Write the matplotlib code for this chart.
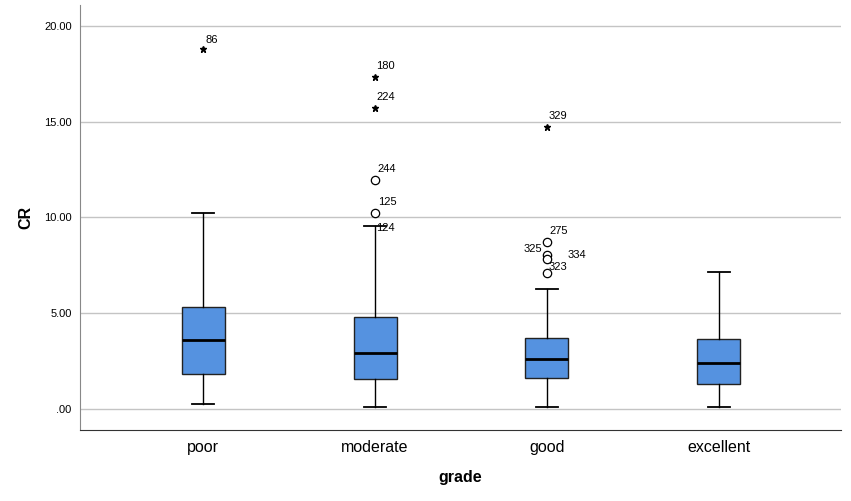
import matplotlib
matplotlib.use('Agg')
import matplotlib.pyplot as plt

plt.rcParams['font.family'] = ['Liberation Sans', 'DejaVu Sans']

grades = ['poor', 'moderate', 'good', 'excellent']
q1 = [1.83, 1.57, 1.60, 1.31]
med = [3.60, 2.92, 2.62, 2.40]
q3 = [5.33, 4.80, 3.71, 3.66]
whis_lo = [0.26, 0.10, 0.12, 0.10]
whis_hi = [10.23, 9.56, 6.27, 7.15]

# outliers: (group index, value, case id, kind)
out_grp = [0, 1, 1, 1, 1, 2, 2, 2, 2, 2]
out_val = [18.80, 17.34, 15.72, 11.96, 10.23, 14.73, 8.72, 8.04, 7.83, 7.10]
out_id = ['86', '180', '224', '244', '125', '329', '275', '325', '334', '323']
out_kind = ['*', '*', '*', 'o', 'o', '*', 'o', 'o', 'o', 'o']
# label position offsets in points
out_off = [(2, 3), (1, 4), (1, 4), (2, 4), (2, 4), (1, 4), (2, 4), (-17, 1), (15, -1), (1, 1)]

fig = plt.figure(figsize=(8.51, 5.01), dpi=100)
ax = fig.add_axes([0.094, 0.142, 0.894, 0.848])

pos = [1, 2, 3, 4]
stats = []
for i in range(4):
    stats.append(dict(med=med[i], q1=q1[i], q3=q3[i], whislo=whis_lo[i], whishi=whis_hi[i], fliers=[]))

ax.bxp(stats, positions=pos, widths=0.25, showfliers=False, patch_artist=True,
       boxprops=dict(facecolor='#5592e0', edgecolor='#222222', linewidth=1.0),
       medianprops=dict(color='black', linewidth=2.0),
       whiskerprops=dict(color='black', linewidth=1.0),
       capprops=dict(color='black', linewidth=1.3), capwidths=0.125, zorder=3)

for g, v, lab, k, off in zip(out_grp, out_val, out_id, out_kind, out_off):
    if k == '*':
        ax.plot(pos[g], v, marker='*', color='black', markersize=5, linestyle='none', zorder=4)
    else:
        ax.plot(pos[g], v, marker='o', markerfacecolor='white', markeredgecolor='black',
                markersize=6, markeredgewidth=0.9, linestyle='none', zorder=4)
    ax.annotate(lab, (pos[g], v), xytext=off, textcoords='offset points', fontsize=8,
                ha='left', va='bottom', zorder=5)

# label 124 sits on the whisker cap
ax.annotate('124', (pos[1], whis_hi[1]), xytext=(1, -5), textcoords='offset points',
            fontsize=8, ha='left', va='bottom', zorder=5)

ax.set_xlim(0.283, 4.71)
ax.set_ylim(-1.1, 21.1)
ax.set_yticks([0, 5, 10, 15, 20])
ax.set_yticklabels(['.00', '5.00', '10.00', '15.00', '20.00'], fontsize=8)
ax.set_xticks(pos)
ax.set_xticklabels(grades, fontsize=11.5)
ax.tick_params(axis='both', length=0)
ax.tick_params(axis='x', pad=7)
ax.tick_params(axis='y', pad=6)
ax.yaxis.grid(True, color='#c4c4c4', linewidth=1.0)
ax.set_axisbelow(True)
for s in ['top', 'right']:
    ax.spines[s].set_visible(False)
ax.spines['left'].set_color('#888888')
ax.spines['bottom'].set_color('#333333')

ax.set_xlabel('grade', fontsize=11.5, fontweight='bold', labelpad=11)
ax.set_ylabel('CR', fontsize=11.5, fontweight='bold', labelpad=8)

fig.savefig('out.png', dpi=100)
